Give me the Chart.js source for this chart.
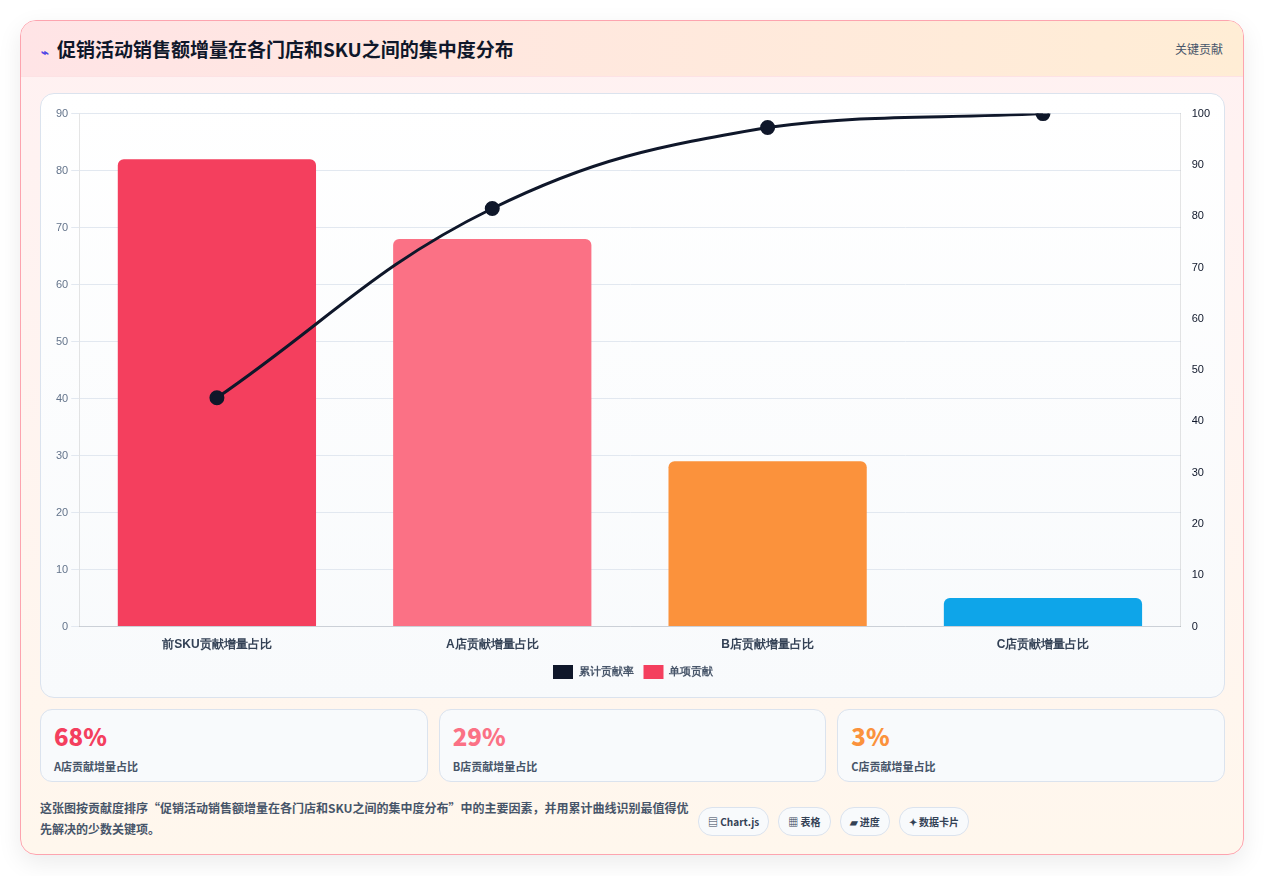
<!DOCTYPE html>
<html lang="zh">
<head>
<meta charset="utf-8">
<script src="https://cdn.jsdelivr.net/npm/chart.js@4/dist/chart.umd.min.js"></script>
<style>
  * { box-sizing: border-box; }
  body { margin: 0; background: #fff; font-family: "Noto Sans CJK SC", "Noto Sans", sans-serif; }
  .card { position: absolute; left: 20px; top: 20px; width: 1224px; height: 835px; border: 1px solid #fda4af; border-radius: 16px;
    background: linear-gradient(180deg, #fff1f2 0%, #fff7ed 100%); box-shadow: 0 8px 24px rgba(0,0,0,0.08); overflow: hidden; }
  .head { height: 56px; display: flex; align-items: center; justify-content: space-between; padding: 0 20px;
    background: linear-gradient(90deg, #ffe4e6, #ffedd5); border-bottom: 1px solid #fde2e4; }
  .head h1 { margin: 0; font-size: 19px; font-weight: 700; color: #0f172a; }
  .head h1 span { color: #4f46e5; font-size: 13px; margin-right: 8px; }
  .head .tag { font-size: 12px; color: #475569; }
  .panel { position: absolute; left: 19px; top: 72px; width: 1185px; height: 605px; border: 1px solid #dbe3ee; border-radius: 14px;
    background: linear-gradient(180deg, #ffffff, #f8fafc); padding: 10px 12px 8px 12px; }
  .stats { position: absolute; left: 19px; top: 688px; width: 1185px; display: flex; gap: 11px; }
  .stat { flex: 1; height: 73px; border: 1px solid #dbe3ee; border-radius: 12px; background: #f8fafc; padding: 10px 13px; }
  .stat b { display: block; font-size: 24px; font-weight: 800; line-height: 32px; }
  .stat small { font-size: 11px; color: #475569; font-weight: 600; }
  .foot { position: absolute; left: 19px; top: 776px; width: 650px; font-size: 12px; font-weight: 600; color: #475569; line-height: 21px; }
  .chips { position: absolute; left: 677px; top: 786px; display: flex; gap: 9px; }
  .chip { font-size: 10px; font-weight: 700; color: #334155; background: #f8fafc; border: 1px solid #dbe3ee; border-radius: 14px; padding: 6px 9px; }
</style>
</head>
<body>
<div class="card">
  <div class="head"><h1><span>⌁</span>促销活动销售额增量在各门店和SKU之间的集中度分布</h1><div class="tag">关键贡献</div></div>
  <div class="panel"><canvas id="c" width="1160" height="585"></canvas></div>
  <div class="stats">
    <div class="stat"><b style="color:#f43f5e">68%</b><small>A店贡献增量占比</small></div>
    <div class="stat"><b style="color:#fb7185">29%</b><small>B店贡献增量占比</small></div>
    <div class="stat"><b style="color:#fb923c">3%</b><small>C店贡献增量占比</small></div>
  </div>
  <div class="foot">这张图按贡献度排序“促销活动销售额增量在各门店和SKU之间的集中度分布”中的主要因素，并用累计曲线识别最值得优先解决的少数关键项。</div>
  <div class="chips"><span class="chip">▤ Chart.js</span><span class="chip">▦ 表格</span><span class="chip">▰ 进度</span><span class="chip">✦ 数据卡片</span></div>
</div>
<script>
const categories = ['前SKU贡献增量占比', 'A店贡献增量占比', 'B店贡献增量占比', 'C店贡献增量占比'];
const contribution = [82, 68, 29, 5];
const cumulative = [44.6, 81.5, 97.3, 100];
const barColors = ['#f43f5e', '#fb7185', '#fb923c', '#0ea5e9'];

new Chart(document.getElementById('c'), {
  data: {
    labels: categories,
    datasets: [
      { type: 'line', label: '累计贡献率', data: cumulative, yAxisID: 'y1', borderColor: '#0f172a', backgroundColor: '#0f172a',
        borderWidth: 3, tension: 0.4, pointRadius: 6, pointHoverRadius: 6 },
      { type: 'bar', label: '单项贡献', data: contribution, yAxisID: 'y', backgroundColor: barColors,
        borderRadius: 6, borderSkipped: 'bottom', categoryPercentage: 0.8, barPercentage: 0.9 }
    ]
  },
  options: {
    responsive: false,
    animation: false,
    layout: { padding: { top: 6 } },
    plugins: {
      legend: { position: 'bottom', labels: { boxWidth: 20, boxHeight: 14, font: { size: 11, weight: '600' }, color: '#475569',
        generateLabels: (chart) => chart.data.datasets.map((d, i) => ({ text: d.label, fillStyle: i === 0 ? '#0f172a' : '#f43f5e',
          strokeStyle: i === 0 ? '#0f172a' : '#f43f5e', lineWidth: 0, datasetIndex: i, fontColor: '#475569' })) } },
      tooltip: { enabled: false }
    },
    scales: {
      x: { grid: { display: false }, ticks: { color: '#334155', font: { size: 12, weight: '700' } } },
      y: { min: 0, max: 90, ticks: { stepSize: 10, color: '#64748b', font: { size: 11 } }, grid: { color: '#e2e8f0' } },
      y1: { position: 'right', min: 0, max: 100, ticks: { stepSize: 10, color: '#0f172a', font: { size: 11 } }, grid: { display: false } }
    }
  }
});
</script>
</body>
</html>
